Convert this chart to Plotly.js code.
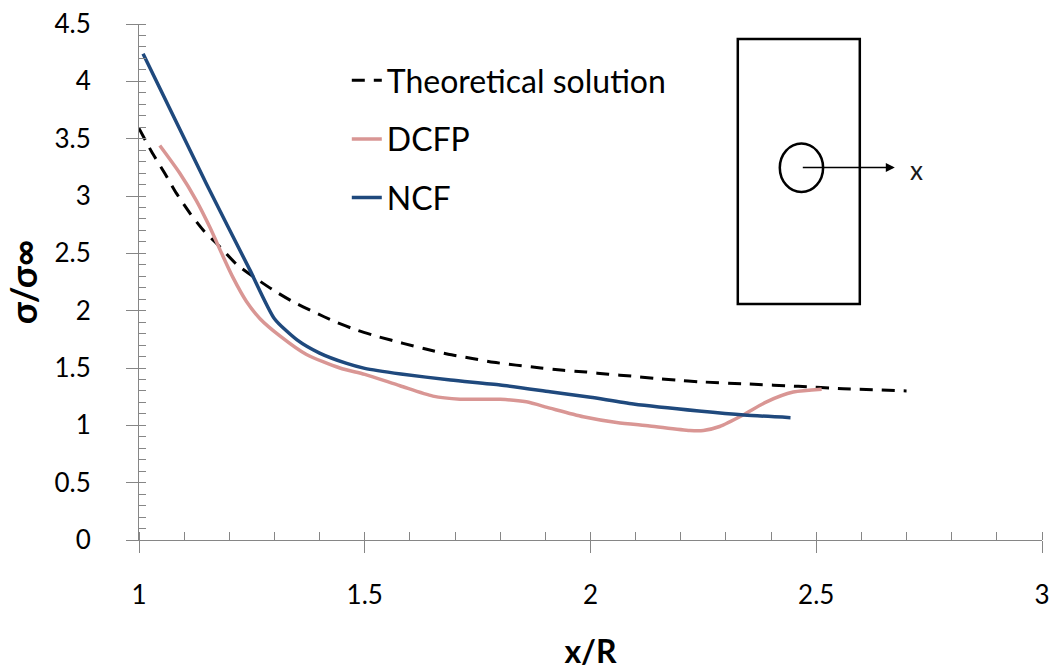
<!DOCTYPE html>
<html>
<head>
<meta charset="utf-8">
<script src="https://cdn.plot.ly/plotly-3.0.1.min.js"></script>
<style>html,body{margin:0;padding:0;background:#fff}</style>
</head>
<body>
<div id="chart" style="width:1054px;height:670px"></div>
<script>
// Theoretical solution (dashed)
var theoX = [1.00, 1.028, 1.057, 1.083, 1.113, 1.142, 1.179, 1.216, 1.256, 1.297, 1.341, 1.386, 1.434, 1.482, 1.53, 1.585, 1.635, 1.685, 1.735, 1.785, 1.835, 1.89, 1.94, 1.99, 2.04, 2.09, 2.14, 2.19, 2.24, 2.35, 2.46, 2.56, 2.70];
var theoY = [3.59, 3.386, 3.198, 3.023, 2.849, 2.703, 2.558, 2.405, 2.289, 2.18, 2.078, 1.991, 1.904, 1.831, 1.773, 1.715, 1.665, 1.62, 1.585, 1.55, 1.525, 1.50, 1.48, 1.465, 1.445, 1.43, 1.41, 1.395, 1.38, 1.36, 1.34, 1.32, 1.30];
// DCFP
var dcfpX = [1.046, 1.09, 1.127, 1.157, 1.183, 1.208, 1.238, 1.268, 1.312, 1.37, 1.445, 1.50, 1.578, 1.651, 1.711, 1.80, 1.858, 1.91, 1.984, 2.058, 2.131, 2.22, 2.25, 2.286, 2.338, 2.39, 2.449, 2.512];
var dcfpY = [3.44, 3.20, 2.96, 2.727, 2.50, 2.29, 2.08, 1.93, 1.78, 1.62, 1.50, 1.445, 1.345, 1.255, 1.228, 1.227, 1.205, 1.15, 1.075, 1.025, 0.995, 0.955, 0.955, 0.99, 1.09, 1.205, 1.29, 1.315];
// NCF
var ncfX = [1.009, 1.15, 1.245, 1.30, 1.35, 1.40, 1.46, 1.50, 1.58, 1.69, 1.80, 1.91, 2.00, 2.095, 2.24, 2.34, 2.443];
var ncfY = [4.24, 3.10, 2.36, 1.93, 1.745, 1.63, 1.54, 1.497, 1.448, 1.395, 1.352, 1.293, 1.244, 1.186, 1.125, 1.09, 1.067];

var seriesNames = ["Theoretical solution", "DCFP", "NCF"];
var xTickVals = [1, 1.5, 2, 2.5, 3];
var xTickText = ["1", "1.5", "2", "2.5", "3"];
var yTickVals = [0, 0.5, 1, 1.5, 2, 2.5, 3, 3.5, 4, 4.5];
var yTickText = ["0", "0.5", "1", "1.5", "2", "2.5", "3", "3.5", "4", "4.5"];

var FONT = "Lato, 'Open Sans', sans-serif";
var AX = "#868686";

var traces = [
  {x: theoX, y: theoY, name: seriesNames[0], mode: "lines", legendgroup: "a",
   line: {color: "#000000", width: 3, dash: "13px,9px", shape: "spline", smoothing: 0.6}},
  {x: dcfpX, y: dcfpY, name: seriesNames[1], mode: "lines", legendgroup: "b",
   line: {color: "#D99694", width: 3.5, shape: "spline", smoothing: 0.7}},
  {x: ncfX, y: ncfY, name: seriesNames[2], mode: "lines", legendgroup: "c",
   line: {color: "#1F497D", width: 3.5, shape: "spline", smoothing: 0.6}}
];

function px(p) { return (p - 139.2) / 903; }
function py(p) { return (540 - p) / 516; }

var layout = {
  width: 1054, height: 670,
  margin: {l: 139, r: 12, t: 24, b: 130},
  paper_bgcolor: "#ffffff", plot_bgcolor: "#ffffff",
  font: {family: FONT, color: "#000000"},
  showlegend: true,
  legend: {x: px(347), y: py(53), xanchor: "left", yanchor: "top",
           font: {family: FONT, size: 32, color: "#000000"},
           bgcolor: "rgba(0,0,0,0)", borderwidth: 0, tracegroupgap: 14, traceorder: "grouped"},
  xaxis: {range: [1, 3], tickvals: xTickVals, ticktext: xTickText,
          showline: true, linecolor: AX, linewidth: 1, showgrid: false, zeroline: false,
          ticks: "outside", ticklen: 12, tickcolor: AX, tickwidth: 1,
          ticklabelstandoff: 20,
          tickfont: {family: FONT, size: 26, color: "#000000"},
          minor: {ticks: "inside", ticklen: 8, dtick: 0.1, tickcolor: AX, tickwidth: 1, showgrid: false},
          title: {text: "<b>x/R</b>", font: {family: FONT, size: 32, color: "#000000"}, standoff: 32},
          fixedrange: true},
  yaxis: {range: [0, 4.5], tickvals: yTickVals, ticktext: yTickText,
          showline: true, linecolor: AX, linewidth: 1, showgrid: false, zeroline: false,
          ticks: "outside", ticklen: 12, tickcolor: AX, tickwidth: 1,
          ticklabelstandoff: 30,
          tickfont: {family: FONT, size: 26, color: "#000000"},
          minor: {ticks: "inside", ticklen: 7, dtick: 0.1, tickcolor: AX, tickwidth: 1, showgrid: false},
          title: {text: "<b>σ/σ∞</b>", font: {family: FONT, size: 36, color: "#000000"}, standoff: 5},
          fixedrange: true},
  xaxis2: {range: [1, 3], overlaying: "x", anchor: "y", side: "bottom", tickvals: xTickVals,
           showticklabels: false, showline: false, showgrid: false, zeroline: false,
           ticks: "inside", ticklen: 8, tickcolor: AX, tickwidth: 1, fixedrange: true},
  yaxis2: {range: [0, 4.5], overlaying: "y", anchor: "x", side: "left", tickvals: yTickVals,
           showticklabels: false, showline: false, showgrid: false, zeroline: false,
           ticks: "inside", ticklen: 7, tickcolor: AX, tickwidth: 1, fixedrange: true},
  shapes: [
    {type: "rect", xref: "paper", yref: "paper", x0: px(738), x1: px(860), y0: py(304), y1: py(39),
     line: {color: "#000000", width: 2.5}, fillcolor: "rgba(0,0,0,0)"},
    {type: "circle", xref: "paper", yref: "paper", x0: px(780), x1: px(823.3), y0: py(192), y1: py(143.5),
     line: {color: "#000000", width: 2.5}, fillcolor: "rgba(0,0,0,0)"}
  ],
  annotations: [
    {xref: "paper", yref: "paper", x: px(895), y: py(167.5), ax: -93.5, ay: 0, text: "",
     showarrow: true, arrowhead: 2, arrowsize: 1.2, arrowwidth: 1.5, arrowcolor: "#000000"},
    {xref: "paper", yref: "paper", x: px(917), y: py(170), text: "x", showarrow: false,
     font: {family: FONT, size: 26, color: "#1a1a1a"}, xanchor: "center", yanchor: "middle"}
  ]
};

Plotly.newPlot("chart", traces, layout, {displayModeBar: false, staticPlot: true});
</script>
</body>
</html>
